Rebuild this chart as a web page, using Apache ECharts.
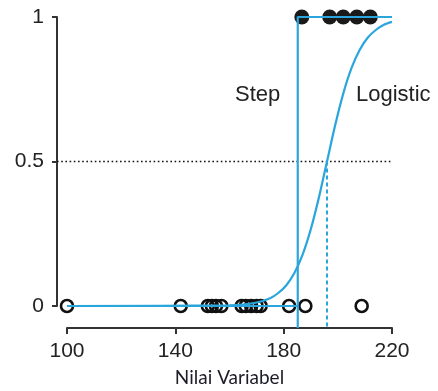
<!DOCTYPE html>
<html>
<head>
<meta charset="utf-8">
<script src="https://cdn.jsdelivr.net/npm/echarts@6/dist/echarts.min.js"></script>
<style>
html,body{margin:0;padding:0;background:#fff;}
#chart{width:438px;height:391px;}
</style>
</head>
<body>
<div id="chart"></div>
<script>
// ---- data ----
const xTicks = [100, 140, 180, 220];
const yTicks = [0, 0.5, 1];
// observations with outcome 0 (open circles)
const zeroX = [100, 142, 152, 153.5, 155, 157, 164.5, 166, 168, 170, 171.5, 182, 188, 208.8];
// observations with outcome 1 (filled circles)
const oneX = [186.7, 197, 202, 207, 212];
// step function threshold
const stepX = 185.2;
// logistic curve
const logisticX = [100, 160, 165, 170, 175, 178, 181, 184, 187, 190, 193, 196, 199, 202, 205, 208, 211, 214, 217, 220];
const logisticY = [0, 0.002, 0.005, 0.012, 0.027, 0.045, 0.072, 0.115, 0.178, 0.265, 0.375, 0.5, 0.625, 0.735, 0.822, 0.885, 0.928, 0.955, 0.973, 0.983];
// x where logistic = 0.5
const midX = 196;
const halfLevel = 0.5;

// ---- drawing ----
const BLUE = '#2aa6dc';
const INK = '#222';
const AXIS_DROP = -0.076; // extends reference lines down to the offset x-axis
const Y_OFFSET = 10;      // px offset of the y-axis line from the plot

const chart = echarts.init(document.getElementById('chart'), null, {renderer: 'canvas'});

const option = {
  animation: false,
  grid: {left: 67, right: 46, top: 17, bottom: 85, containLabel: false, outerBoundsMode: 'none'},
  xAxis: {
    type: 'value', min: 100, max: 220, interval: 40, offset: 22,
    name: 'Nilai Variabel', nameLocation: 'middle', nameGap: 40,
    nameTextStyle: {fontFamily: 'Lato', fontSize: 19, color: '#1c1c28'},
    axisLine: {onZero: false, lineStyle: {color: '#333', width: 2}},
    axisTick: {length: 6, lineStyle: {color: '#333', width: 2}},
    axisLabel: {fontFamily: 'Liberation Sans', fontSize: 21, color: INK, margin: 13,
      customValues: xTicks},
    splitLine: {show: false}
  },
  yAxis: {
    type: 'value', min: 0, max: 1, interval: 0.5, offset: Y_OFFSET,
    axisLine: {onZero: false, lineStyle: {color: '#333', width: 2}},
    axisTick: {length: 5, lineStyle: {color: '#333', width: 2}},
    axisLabel: {fontFamily: 'Liberation Sans', fontSize: 21, color: INK, margin: 13,
      customValues: yTicks},
    splitLine: {show: false}
  },
  series: [
    {
      type: 'line', clip: false, symbol: 'none', silent: true,
      data: [[midX, halfLevel], [midX, AXIS_DROP]],
      lineStyle: {color: BLUE, width: 2, type: [4, 3]}
    },
    {
      type: 'line', clip: false, symbol: 'none', silent: true,
      data: [[100, 0], [stepX, 0], [stepX, AXIS_DROP], [stepX, 1], [220, 1]],
      lineStyle: {color: BLUE, width: 2.2}
    },
    {
      type: 'line', clip: false, symbol: 'none', silent: true, smooth: 0.3,
      data: logisticX.map((x, i) => [x, logisticY[i]]),
      lineStyle: {color: BLUE, width: 2.2}
    },
    {
      type: 'scatter', clip: false, symbol: 'circle', symbolSize: 12,
      data: zeroX.map(x => [x, 0]),
      itemStyle: {color: 'rgba(255,255,255,0)', borderColor: '#111', borderWidth: 2.6, opacity: 1}
    },
    {
      type: 'scatter', clip: false, symbol: 'circle', symbolSize: 15,
      data: oneX.map(x => [x, 1]),
      itemStyle: {color: '#1a1a1a', opacity: 1}
    }
  ]
};
chart.setOption(option);

// dotted 0.5 reference line, from the offset y-axis to x = 220 (positions via the chart's scales)
const pA = chart.convertToPixel({gridIndex: 0}, [100, halfLevel]);
const pB = chart.convertToPixel({gridIndex: 0}, [220, halfLevel]);
chart.setOption({
  graphic: [
    {type: 'text', left: 235, top: 84, style: {text: 'Step', font: '22px "Liberation Sans"', fill: INK}},
    {type: 'text', left: 356, top: 84, style: {text: 'Logistic', font: '22px "Liberation Sans"', fill: INK}},
    {type: 'line', silent: true, z: 1,
      shape: {x1: pA[0] - Y_OFFSET, y1: pA[1], x2: pB[0], y2: pB[1]},
      style: {stroke: '#111', lineWidth: 1.6, lineDash: [1.6, 2.6]}}
  ]
});
</script>
</body>
</html>
